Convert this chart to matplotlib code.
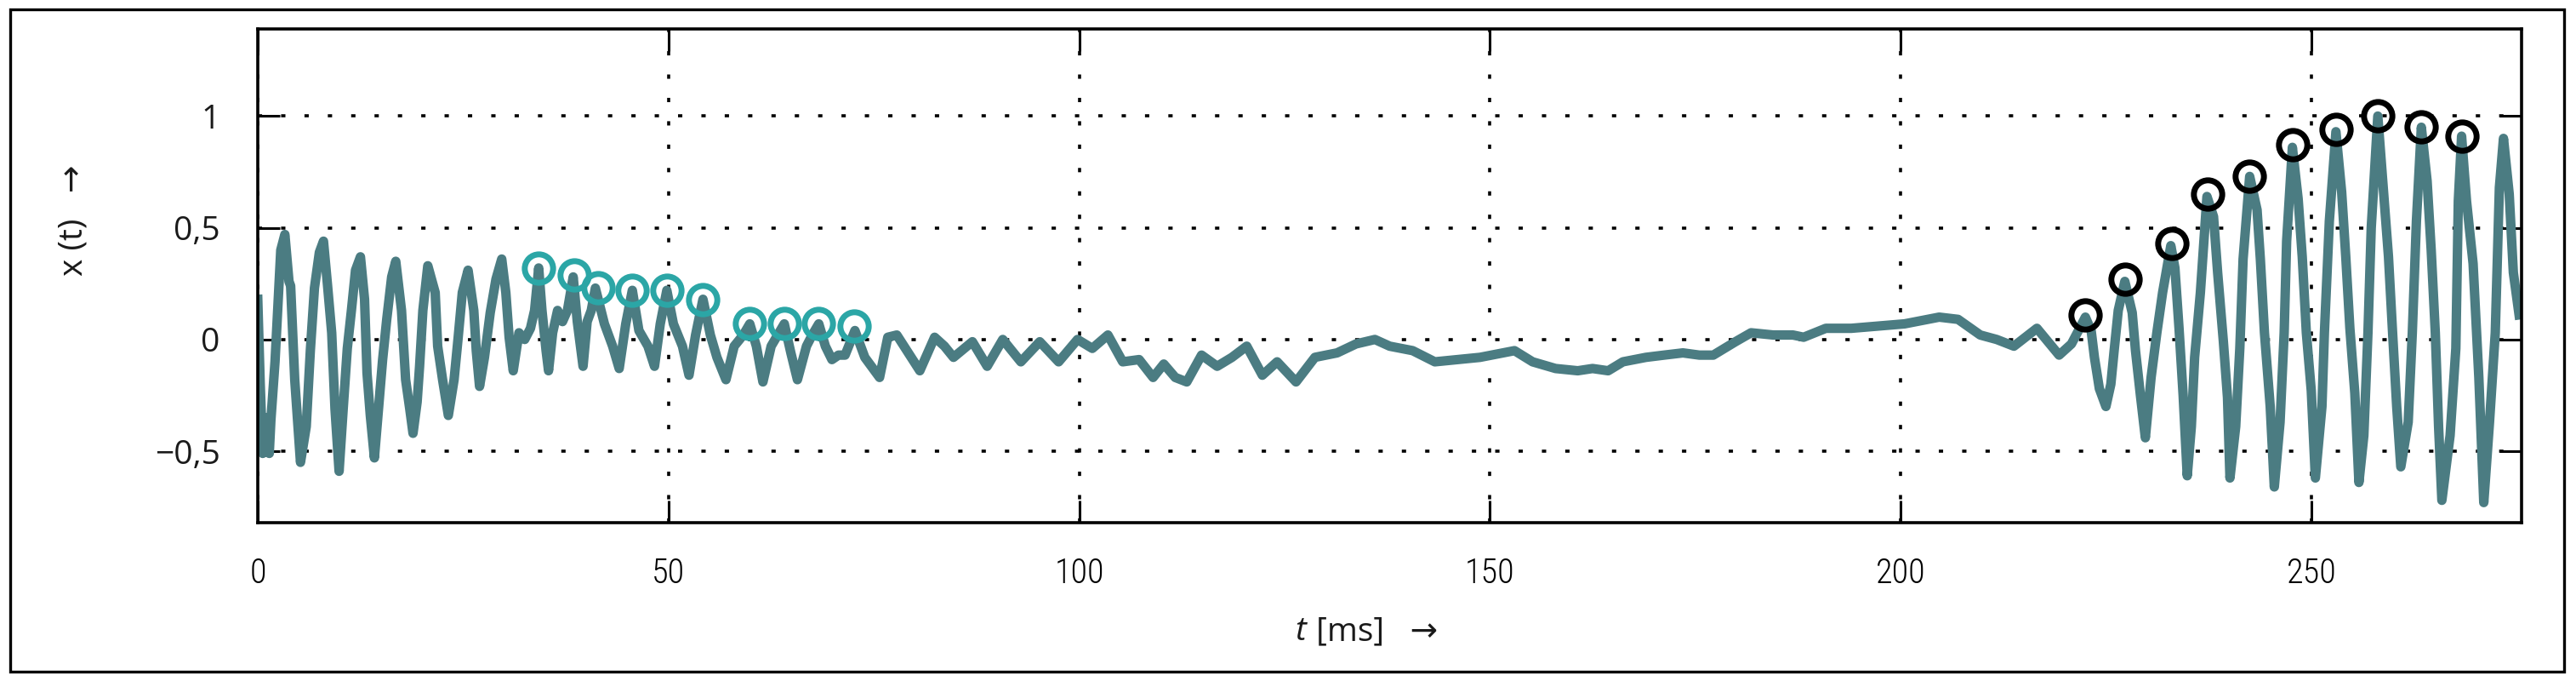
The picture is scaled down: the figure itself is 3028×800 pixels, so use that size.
import matplotlib
matplotlib.use("Agg")
import matplotlib.pyplot as plt
from matplotlib import font_manager as fm
from matplotlib.patches import Rectangle

# ---------------- data ----------------
t_ms = [
    0.0, 0.3, 0.6, 1.0, 1.4, 1.6, 2.1, 2.45, 2.8, 3.3,
    3.8, 4.0, 4.5, 5.2, 5.9, 6.4, 6.9, 7.5, 8.0,
    8.5, 9.0, 9.4, 9.9, 10.4, 10.9, 11.4, 11.9, 12.5,
    13.0, 13.3, 13.7, 14.2, 14.7, 15.2, 15.7, 16.3, 16.8,
    17.5, 18.0, 18.5, 18.9, 19.4, 19.7, 20.1, 20.7,
    21.6, 21.9, 22.5, 23.2, 23.9, 24.4, 24.9, 25.6,
    26.3, 26.6, 27.0, 27.6, 28.3, 29.0, 29.7,
    30.2, 30.6, 31.1, 31.8, 32.5, 33.2, 33.7, 34.2,
    34.6, 35.1, 35.4, 35.9, 36.5, 37.1, 37.7, 38.4,
    38.9, 39.6, 40.1, 40.6, 41.1,
    42.2, 43.2, 44.0, 44.8, 45.6,
    46.4, 47.5, 48.3, 49.0, 49.8,
    50.6, 51.7, 52.5, 53.3, 54.2,
    55.1, 55.9, 57.0, 58.0, 59.1, 59.9,
    60.7, 61.5, 62.5, 63.3, 64.1,
    64.9, 65.7, 66.8, 67.5, 68.3,
    69.1, 69.9, 70.7, 71.5, 72.7,
    73.9, 75.7, 76.7, 77.8, 79.2, 80.6, 82.4, 83.6, 84.7, 87.0, 88.8, 90.7,
    92.9, 95.2, 97.5, 99.8, 101.6, 103.5, 105.3, 107.3, 109.0, 110.3, 111.7,
    113.1, 114.9, 116.8, 118.6, 120.4, 122.3, 124.1, 126.4, 128.7, 131.4, 133.7,
    136.0, 137.8, 140.6, 143.3, 146.1, 148.8, 151.6, 153.0, 155.2, 158.0, 160.7,
    162.5, 164.4, 166.2, 169.0, 171.2, 173.5, 175.5, 177.2, 179.9, 181.8, 184.5,
    186.9, 188.2, 190.9, 194.0, 197.3, 200.5, 201.9, 204.7, 207.0, 209.7,
    211.7, 213.8, 216.6, 219.3, 220.8, 221.8, 222.5,
    223.2, 223.6, 224.2, 225.0, 225.6, 226.0, 226.5, 227.3,
    228.2, 228.6, 229.2, 229.8, 230.5, 231.2, 231.9, 232.9,
    233.4, 233.9, 234.4, 234.9, 235.4, 235.8, 236.5, 237.3,
    238.1, 238.6, 239.3, 239.8, 240.1, 240.8, 241.3, 241.7, 242.5,
    243.4, 243.8, 244.3, 245.0, 245.5, 246.2, 246.7, 247.0, 247.7,
    248.4, 248.9, 249.4, 250.0, 250.5, 251.3, 251.6, 252.2, 253.0,
    253.7, 254.2, 254.7, 255.3, 255.8, 256.4, 256.9, 257.3, 258.1,
    258.7, 259.4, 259.9, 260.4, 260.9, 261.8, 262.3, 262.8, 263.4,
    264.1, 264.6, 265.1, 265.5, 265.9, 266.9, 267.6, 267.9, 268.3,
    268.9, 269.7, 270.4, 271.0, 271.7, 272.4, 272.9, 273.4,
    274.1, 274.6, 275.3,
]
x_val = [
    0.18, -0.20, -0.51, -0.35, -0.51, -0.36, -0.10, 0.15, 0.40, 0.47,
    0.26, 0.24, -0.18, -0.55, -0.39, -0.05, 0.23, 0.39, 0.44,
    0.24, 0.03, -0.31, -0.59, -0.31, -0.04, 0.13, 0.31, 0.37,
    0.18, -0.15, -0.34, -0.53, -0.31, -0.09, 0.09, 0.28, 0.35,
    0.13, -0.18, -0.31, -0.42, -0.28, -0.12, 0.13, 0.33,
    0.21, -0.03, -0.18, -0.34, -0.18, 0.01, 0.21, 0.31,
    0.13, -0.05, -0.21, -0.08, 0.12, 0.27, 0.36,
    0.21, 0.01, -0.14, 0.03, 0.00, 0.05, 0.13, 0.32,
    0.13, -0.05, -0.14, 0.03, 0.13, 0.08, 0.13, 0.28,
    0.08, -0.12, 0.08, 0.13, 0.23,
    0.07, -0.03, -0.13, 0.07, 0.22,
    0.04, -0.03, -0.12, 0.07, 0.22,
    0.07, -0.03, -0.16, 0.02, 0.18,
    0.02, -0.08, -0.18, -0.03, 0.02, 0.07,
    -0.03, -0.19, -0.03, 0.02, 0.07,
    -0.06, -0.18, -0.03, 0.02, 0.07,
    -0.03, -0.09, -0.07, -0.07, 0.04,
    -0.08, -0.17, 0.01, 0.02, -0.06, -0.14, 0.01, -0.03, -0.08, -0.01, -0.12, 0.00,
    -0.10, -0.01, -0.10, 0.00, -0.04, 0.02, -0.10, -0.09, -0.17, -0.11, -0.17,
    -0.19, -0.07, -0.12, -0.08, -0.03, -0.16, -0.10, -0.19, -0.08, -0.06, -0.02,
    0.00, -0.03, -0.05, -0.10, -0.09, -0.08, -0.06, -0.05, -0.10, -0.13, -0.14,
    -0.13, -0.14, -0.10, -0.08, -0.07, -0.06, -0.07, -0.07, -0.01, 0.03, 0.02,
    0.02, 0.01, 0.05, 0.05, 0.06, 0.07, 0.08, 0.10, 0.09, 0.02,
    0.00, -0.03, 0.05, -0.07, -0.02, 0.05, 0.10,
    0.04, -0.08, -0.22, -0.30, -0.20, -0.05, 0.13, 0.26,
    0.12, -0.05, -0.25, -0.44, -0.17, 0.03, 0.21, 0.42,
    0.32, 0.05, -0.25, -0.61, -0.39, -0.08, 0.21, 0.64,
    0.55, 0.30, -0.01, -0.26, -0.62, -0.39, -0.04, 0.36, 0.73,
    0.58, 0.36, 0.03, -0.30, -0.66, -0.37, 0.03, 0.44, 0.86,
    0.63, 0.37, 0.03, -0.23, -0.62, -0.30, 0.03, 0.53, 0.93,
    0.66, 0.37, 0.05, -0.24, -0.64, -0.43, 0.03, 0.50, 1.00,
    0.71, 0.37, 0.03, -0.30, -0.57, -0.37, 0.03, 0.53, 0.95,
    0.71, 0.40, 0.03, -0.39, -0.72, -0.43, -0.04, 0.62, 0.91,
    0.62, 0.34, -0.17, -0.73, -0.37, 0.03, 0.68, 0.90,
    0.65, 0.30, 0.11,
]

# marked periods (circles)
t_cyan = [34.2, 38.5, 41.4, 45.6, 49.8, 54.2, 59.9, 64.1, 68.3, 72.6]
x_cyan = [0.32, 0.29, 0.23, 0.22, 0.22, 0.18, 0.07, 0.07, 0.07, 0.06]
t_black = [222.5, 227.3, 233.0, 237.4, 242.5, 247.7, 253.0, 258.1, 263.4, 268.3]
x_black = [0.11, 0.27, 0.43, 0.65, 0.73, 0.87, 0.94, 1.00, 0.95, 0.91]

x_ticks = [0, 50, 100, 150, 200, 250]
x_ticklabels = ["0", "50", "100", "150", "200", "250"]
y_ticks = [-0.5, 0, 0.5, 1]
y_ticklabels = ["\u22120,5", "0", "0,5", "1"]

# ---------------- fonts ----------------
def _w(v):
    if isinstance(v, (int, float)):
        return v
    return {"ultralight": 200, "light": 300, "normal": 400, "regular": 400,
            "book": 400, "medium": 500}.get(str(v), 700)

names = {f.name for f in fm.fontManager.ttflist}
base_font = "Open Sans" if "Open Sans" in names else "DejaVu Sans"
narrow = None
for cand in ["Open Sans Condensed", "Roboto Condensed", "Liberation Sans Narrow"]:
    light = [f for f in fm.fontManager.ttflist
             if f.name == cand and _w(f.weight) < 500 and f.style == "normal"]
    if light:
        narrow = cand
        break
if narrow:
    x_tick_font = dict(family=narrow, weight=300)
else:
    x_tick_font = dict(family=base_font)
plt.rcParams["font.family"] = [base_font, "DejaVu Sans"]

# ---------------- figure ----------------
W, H = 3028, 800
fig = plt.figure(figsize=(W / 100, H / 100), dpi=100)
ax_l, ax_r, ax_t, ax_b = 303, 2964, 34, 614
ax = fig.add_axes([ax_l / W, 1 - ax_b / H, (ax_r - ax_l) / W, (ax_b - ax_t) / H])

line_color = "#4b7c82"
cyan = "#2ba6a6"

ax.plot(t_ms, x_val, color=line_color, lw=8.0, zorder=3, solid_joinstyle="round")
ax.plot(t_cyan, x_cyan, linestyle="none", marker="o", ms=24, mfc="none",
        mec=cyan, mew=5.0, zorder=4)
ax.plot(t_black, x_black, linestyle="none", marker="o", ms=24, mfc="none",
        mec="black", mew=5.0, zorder=4)

ax.set_xlim(0, 275.6)
ax.set_ylim(-0.82, 1.39)
ax.set_xticks(x_ticks)
ax.set_xticklabels(x_ticklabels, fontsize=29, color="black", **x_tick_font)
ax.set_yticks(y_ticks)
ax.set_yticklabels(y_ticklabels, fontsize=28)

ax.grid(True, color="black", lw=2.6, linestyle=(0, (1.4, 6.2)), zorder=1)
ax.set_axisbelow(True)
ax.tick_params(direction="in", length=19, width=2.2, top=True, right=True,
               color="black")
ax.tick_params(axis="y", pad=32, labelcolor="#1a1a1a")
ax.tick_params(axis="x", pad=29, labelcolor="black")
for s in ax.spines.values():
    s.set_linewidth(2.6)
    s.set_zorder(5)

# axis labels
fig.text(87 / W, 1 - 259 / H, "x (t)   \u2192", rotation=90, ha="center",
         va="center", fontsize=28, color="#1a1a1a")
fig.text(1535 / W, 1 - 742 / H, "t", style="italic", ha="right", va="center",
         fontsize=28, color="#1a1a1a")
fig.text(1537 / W, 1 - 742 / H, " [ms]   \u2192", ha="left", va="center",
         fontsize=28, color="#1a1a1a")

# outer frame
fig.patches.append(Rectangle((12 / W, 11 / H), (3014 - 12) / W, (789 - 11) / H,
                             transform=fig.transFigure, fill=False,
                             edgecolor="black", lw=2.4))

fig.savefig("out.png", dpi=100)
